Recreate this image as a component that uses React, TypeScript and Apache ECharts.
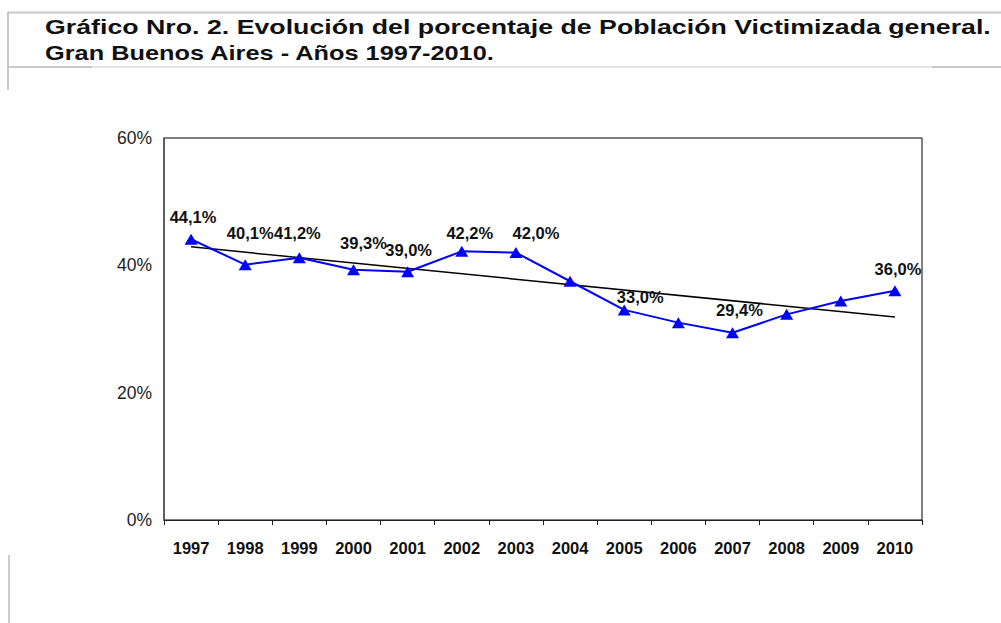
import React, { useEffect, useRef } from "react";
import * as echarts from "echarts";

const years = ["1997", "1998", "1999", "2000", "2001", "2002", "2003", "2004", "2005", "2006", "2007", "2008", "2009", "2010"];
const victimized = [44.1, 40.1, 41.2, 39.3, 39.0, 42.2, 42.0, 37.5, 33.0, 31.0, 29.4, 32.3, 34.4, 36.0];
const labeled = [true, true, true, true, true, true, true, false, true, false, true, false, false, true];
const trendStart = 42.9;
const trendEnd = 31.9;
const yTicks = [0, 20, 40, 60];
const titleLine1 = "Gráfico Nro. 2. Evolución del porcentaje de Población Victimizada general.";
const titleLine2 = "Gran Buenos Aires - Años 1997-2010.";

// label nudges (style only)
const labelNudges: [number, number][] = [
  [2, -3], [5, -13], [-2, -6], [10, -8], [1, -3], [8, 1], [20, -1], [0, 0], [16, 6], [0, 0], [7, -4], [0, 0], [0, 0], [3, -3],
];

const fmt = (v: number) => v.toFixed(1).replace(".", ",") + "%";

export default function App() {
  const ref = useRef<HTMLDivElement>(null);
  useEffect(() => {
    document.body.style.margin = "0";
    const chart = echarts.init(ref.current!, null, { renderer: "svg" });
    const lineData = victimized.map((v, i) => ({
      value: v,
      label: { show: labeled[i], offset: labelNudges[i] },
    }));
    const trendData = years.map((_, i) => (i === 0 ? trendStart : i === years.length - 1 ? trendEnd : null));
    const font = "'Liberation Sans', Arial, sans-serif";
    chart.setOption({
      animation: false,
      backgroundColor: "#ffffff",
      grid: { left: 164, right: 79, top: 138, bottom: 103, show: true, borderColor: "#000", borderWidth: 1 },
      xAxis: {
        type: "category",
        data: years,
        boundaryGap: true,
        axisLine: { lineStyle: { color: "#222", width: 1 } },
        axisTick: { show: true, length: 5, lineStyle: { color: "#222" } },
        axisLabel: { fontFamily: font, fontSize: 16.5, fontWeight: "bold", color: "#111", margin: 19 },
      },
      yAxis: {
        type: "value",
        min: yTicks[0],
        max: yTicks[yTicks.length - 1],
        interval: 20,
        splitLine: { show: false },
        axisLine: { show: true, lineStyle: { color: "#555", width: 1.5 } },
        axisTick: { show: false },
        axisLabel: { fontFamily: font, fontSize: 17.5, color: "#222", margin: 12, formatter: "{value}%" },
      },
      series: [
        {
          type: "line",
          data: trendData,
          connectNulls: true,
          showSymbol: false,
          symbol: "none",
          lineStyle: { color: "#000", width: 1.5 },
          silent: true,
          z: 2,
        },
        {
          type: "line",
          data: lineData,
          symbol: "triangle",
          symbolSize: [13, 11],
          itemStyle: { color: "#0000ff" },
          lineStyle: { color: "#0000ff", width: 2 },
          label: {
            show: true,
            position: "top",
            fontFamily: font,
            fontSize: 16.5,
            fontWeight: "bold",
            color: "#111",
            formatter: (p: any) => fmt(p.value),
          },
          z: 3,
        },
      ],
      graphic: [
        { type: "line", shape: { x1: 8, y1: 12.5, x2: 1001, y2: 12.5 }, style: { stroke: "#c8c8c8", lineWidth: 2 } },
        { type: "line", shape: { x1: 8, y1: 12, x2: 8, y2: 90 }, style: { stroke: "#c8c8c8", lineWidth: 2 } },
        { type: "line", shape: { x1: 8, y1: 67, x2: 1001, y2: 67 }, style: { stroke: "#d8d8d8", lineWidth: 1.5 } },
        { type: "line", shape: { x1: 8, y1: 67, x2: 92, y2: 67 }, style: { stroke: "#c0c0c0", lineWidth: 1.5 } },
        { type: "line", shape: { x1: 932, y1: 67, x2: 1001, y2: 67 }, style: { stroke: "#c0c0c0", lineWidth: 1.5 } },
        { type: "line", shape: { x1: 9, y1: 555, x2: 9, y2: 623 }, style: { stroke: "#bbbbbb", lineWidth: 1.5 } },
        {
          type: "text",
          x: 45,
          y: 27,
          scaleX: 1.372,
          style: { text: titleLine1, fontFamily: font, fontSize: 19.5, fontWeight: "bold", fill: "#111", textVerticalAlign: "middle" },
        },
        {
          type: "text",
          x: 45,
          y: 53.5,
          scaleX: 1.3,
          style: { text: titleLine2, fontFamily: font, fontSize: 19.5, fontWeight: "bold", fill: "#111", textVerticalAlign: "middle" },
        },
      ],
    });
    return () => chart.dispose();
  }, []);
  return <div ref={ref} style={{ width: 1001, height: 623 }} />;
}
